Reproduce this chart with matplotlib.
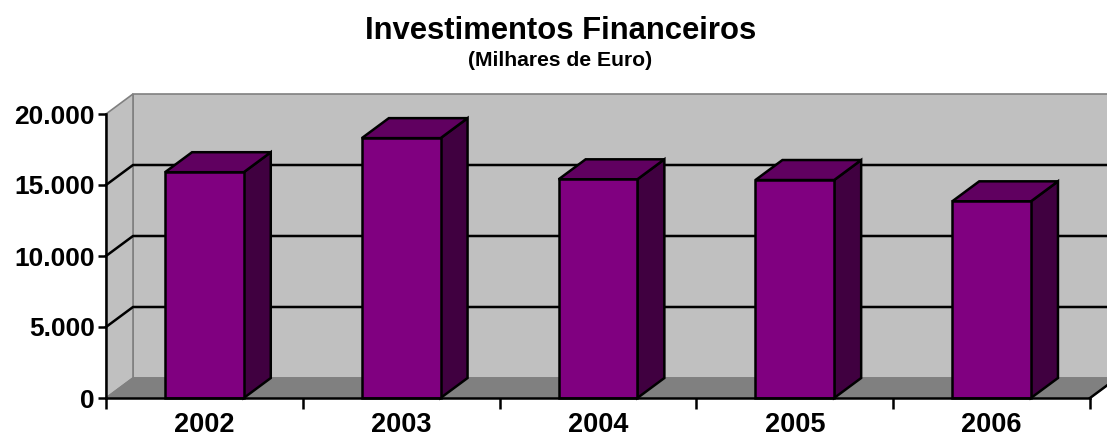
import matplotlib
matplotlib.use('Agg')
import matplotlib.pyplot as plt
from matplotlib.patches import Polygon
from matplotlib.ticker import FuncFormatter

plt.rcParams['font.family'] = ['Liberation Sans', 'DejaVu Sans']

anos = ['2002', '2003', '2004', '2005', '2006']
valores = [15900, 18300, 15400, 15350, 13850]
y_ticks = [0, 5000, 10000, 15000, 20000]

cor_frente = '#800080'
cor_topo = '#600060'
cor_lado = '#400040'
cor_parede = '#c0c0c0'
cor_chao = '#808080'

fig = plt.figure(figsize=(11.07, 4.41), dpi=100)
ax = fig.add_axes([106/1107, 1 - 398/441, 984/1107, 284/441])
ax.set_xlim(0, len(anos))
ax.set_ylim(0, 20000)
ax.set_facecolor('none')

# profundidade do efeito 3D (em unidades de dados)
dx = 27 / 984 * len(anos)
dy = 20 / 284 * 20000
ymax = y_ticks[-1]
n = len(anos)

# parede do fundo
ax.add_patch(Polygon([(dx, dy), (n + dx, dy), (n + dx, ymax + dy), (dx, ymax + dy)],
                     closed=True, fc=cor_parede, ec='#808080', lw=1.2, clip_on=False, zorder=1))
# parede lateral
ax.add_patch(Polygon([(0, 0), (dx, dy), (dx, ymax + dy), (0, ymax)],
                     closed=True, fc=cor_parede, ec='#808080', lw=1.2, clip_on=False, zorder=1))
# chao
ax.add_patch(Polygon([(0, 0), (n, 0), (n + dx, dy), (dx, dy)],
                     closed=True, fc=cor_chao, ec='#808080', lw=1.2, clip_on=False, zorder=1))

# linhas de grelha
for t in y_ticks[1:-1]:
    ax.plot([0, dx, n + dx], [t, t + dy, t + dy], color='black', lw=1.8,
            clip_on=False, zorder=2)

# barras 3D
largura = 0.4
for i, v in enumerate(valores):
    x0 = i + 0.5 - largura / 2
    x1 = x0 + largura
    frente = [(x0, 0), (x1, 0), (x1, v), (x0, v)]
    topo = [(x0, v), (x1, v), (x1 + dx, v + dy), (x0 + dx, v + dy)]
    lado = [(x1, 0), (x1 + dx, dy), (x1 + dx, v + dy), (x1, v)]
    for pts, cor in [(lado, cor_lado), (topo, cor_topo), (frente, cor_frente)]:
        ax.add_patch(Polygon(pts, closed=True, fc=cor, ec='black', lw=1.8,
                             joinstyle='miter', clip_on=False, zorder=3))

# canto do chao a direita
ax.plot([n, n + dx], [0, dy], color='black', lw=1.8, clip_on=False, zorder=4)

for s in ['top', 'right']:
    ax.spines[s].set_visible(False)
for s in ['left', 'bottom']:
    ax.spines[s].set_linewidth(1.8)
    ax.spines[s].set_zorder(5)

ax.set_yticks(y_ticks)
ax.yaxis.set_major_formatter(FuncFormatter(lambda v, p: f'{int(v):,}'.replace(',', '.')))
ax.tick_params(axis='y', length=6, width=1.8, labelsize=19, pad=2)
for lb in ax.get_yticklabels():
    lb.set_fontweight('bold')

ax.set_xticks(range(n + 1))
ax.set_xticklabels([])
ax.set_xticks([i + 0.5 for i in range(n)], minor=True)
ax.set_xticklabels(anos, minor=True, fontsize=19.5, fontweight='bold')
ax.tick_params(axis='x', which='major', length=8, width=1.8)
ax.tick_params(axis='x', which='minor', length=0, pad=10)

fig.text(0.506, 1 - 39/441, 'Investimentos Financeiros', ha='center', va='baseline',
         fontsize=22.3, fontweight='bold')
fig.text(0.506, 1 - 66/441, '(Milhares de Euro)', ha='center', va='baseline',
         fontsize=15.2, fontweight='bold')

fig.savefig('out.png', dpi=100)
